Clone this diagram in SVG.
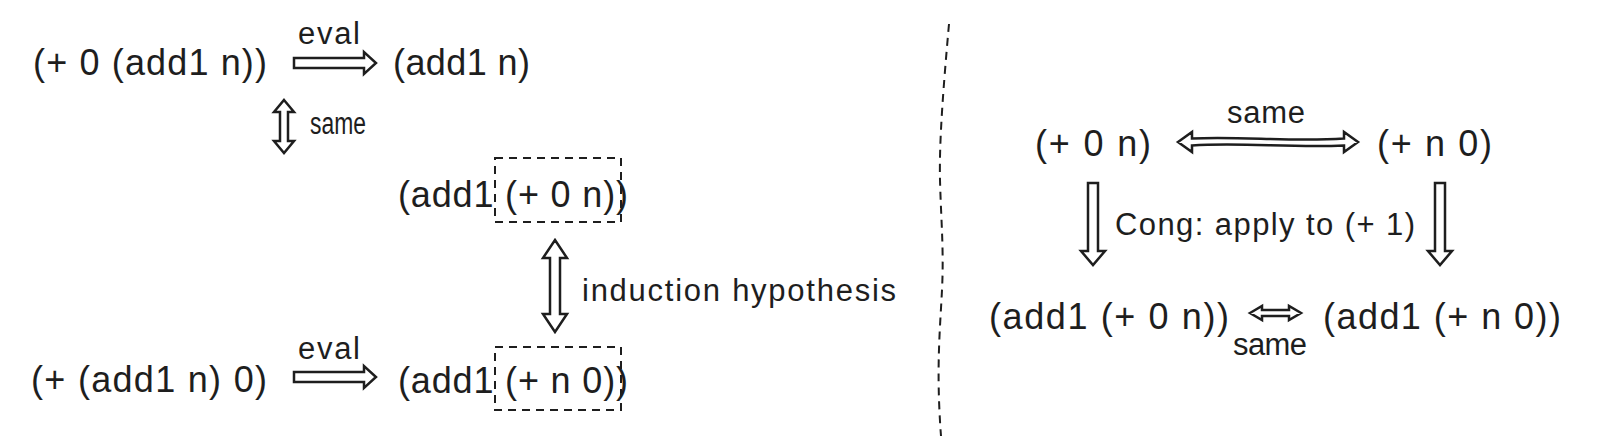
<svg xmlns="http://www.w3.org/2000/svg" width="1600" height="444" viewBox="0 0 1600 444">
<style>
text{font-family:"Liberation Sans","DejaVu Sans",sans-serif;fill:#1e1e1e}
.e{font-size:36px}
.l{font-size:31px}
.a{fill:#fff;stroke:#1e1e1e;stroke-width:2.5;stroke-linejoin:miter}
.d{fill:none;stroke:#1e1e1e;stroke-width:2;stroke-dasharray:8 6}
</style>
<rect width="1600" height="444" fill="#fff"/>
<g id="connectors">
<polygon class="a" points="294,58 364,58 364,52 376,63 364,74 364,68 294,68"/>
<polygon class="a" points="294,372 364,372 364,366 376,377 364,388 364,382 294,382"/>
<polygon class="a" points="284,100 294,112 288,112 288,141 294,141 284,153 274,141 280,141 280,112 274,112"/>
<polygon class="a" points="555,240 567,258 560,258 560,314 567,314 555,332 543,314 550,314 550,258 543,258"/>
<path class="a" d="M1178,142 L1192,132 L1192,138.5 C1240,136 1290,142 1344,138.5 L1344,132 L1358,142 L1344,152 L1344,145.5 C1290,148 1240,142 1192,145.5 L1192,152 Z"/>
<polygon class="a" points="1088,183 1098,183 1098,251 1105,251 1093,265 1081,251 1088,251"/>
<polygon class="a" points="1435,183 1445,183 1445,251 1452,251 1440,265 1428,251 1435,251"/>
<polygon class="a" points="1250,313 1262,306 1262,310 1289,310 1289,306 1301,313 1289,320 1289,316 1262,316 1262,320"/>
</g>
<g id="divider">
<path class="d" d="M949,24 C944,80 939,140 940,180 C941,220 944,250 942,290 C940,330 936,370 941,436"/>
</g>
<g id="n1"><text class="e" x="33" y="75" textLength="234">(+ 0 (add1 n))</text></g>
<g id="l-eval1"><text class="l" x="298" y="44" textLength="62">eval</text></g>
<g id="n2"><text class="e" x="393" y="75" textLength="137">(add1 n)</text></g>
<g id="l-same1"><text class="l" x="310" y="134" textLength="56" lengthAdjust="spacingAndGlyphs">same</text></g>
<g id="n3">
<text class="e" x="398" y="207" textLength="230">(add1 (+ 0 n))</text>
<rect class="d" x="495" y="158" width="126" height="64"/>
</g>
<g id="l-ih"><text class="l" x="582" y="301" textLength="314">induction hypothesis</text></g>
<g id="n4"><text class="e" x="31" y="392" textLength="236">(+ (add1 n) 0)</text></g>
<g id="l-eval2"><text class="l" x="298" y="359" textLength="62">eval</text></g>
<g id="n5">
<text class="e" x="398" y="393" textLength="230">(add1 (+ n 0))</text>
<rect class="d" x="495" y="347" width="126" height="63"/>
</g>
<g id="r1"><text class="e" x="1035" y="156" textLength="116">(+ 0 n)</text></g>
<g id="l-same2"><text class="l" x="1227" y="123" textLength="78">same</text></g>
<g id="r2"><text class="e" x="1377" y="156" textLength="115">(+ n 0)</text></g>
<g id="l-cong"><text class="l" x="1115" y="235" textLength="300">Cong: apply to (+ 1)</text></g>
<g id="r3"><text class="e" x="989" y="329" textLength="240">(add1 (+ 0 n))</text></g>
<g id="r4"><text class="e" x="1323" y="329" textLength="238">(add1 (+ n 0))</text></g>
<g id="l-same3"><text class="l" x="1233" y="355" textLength="74">same</text></g>
</svg>
